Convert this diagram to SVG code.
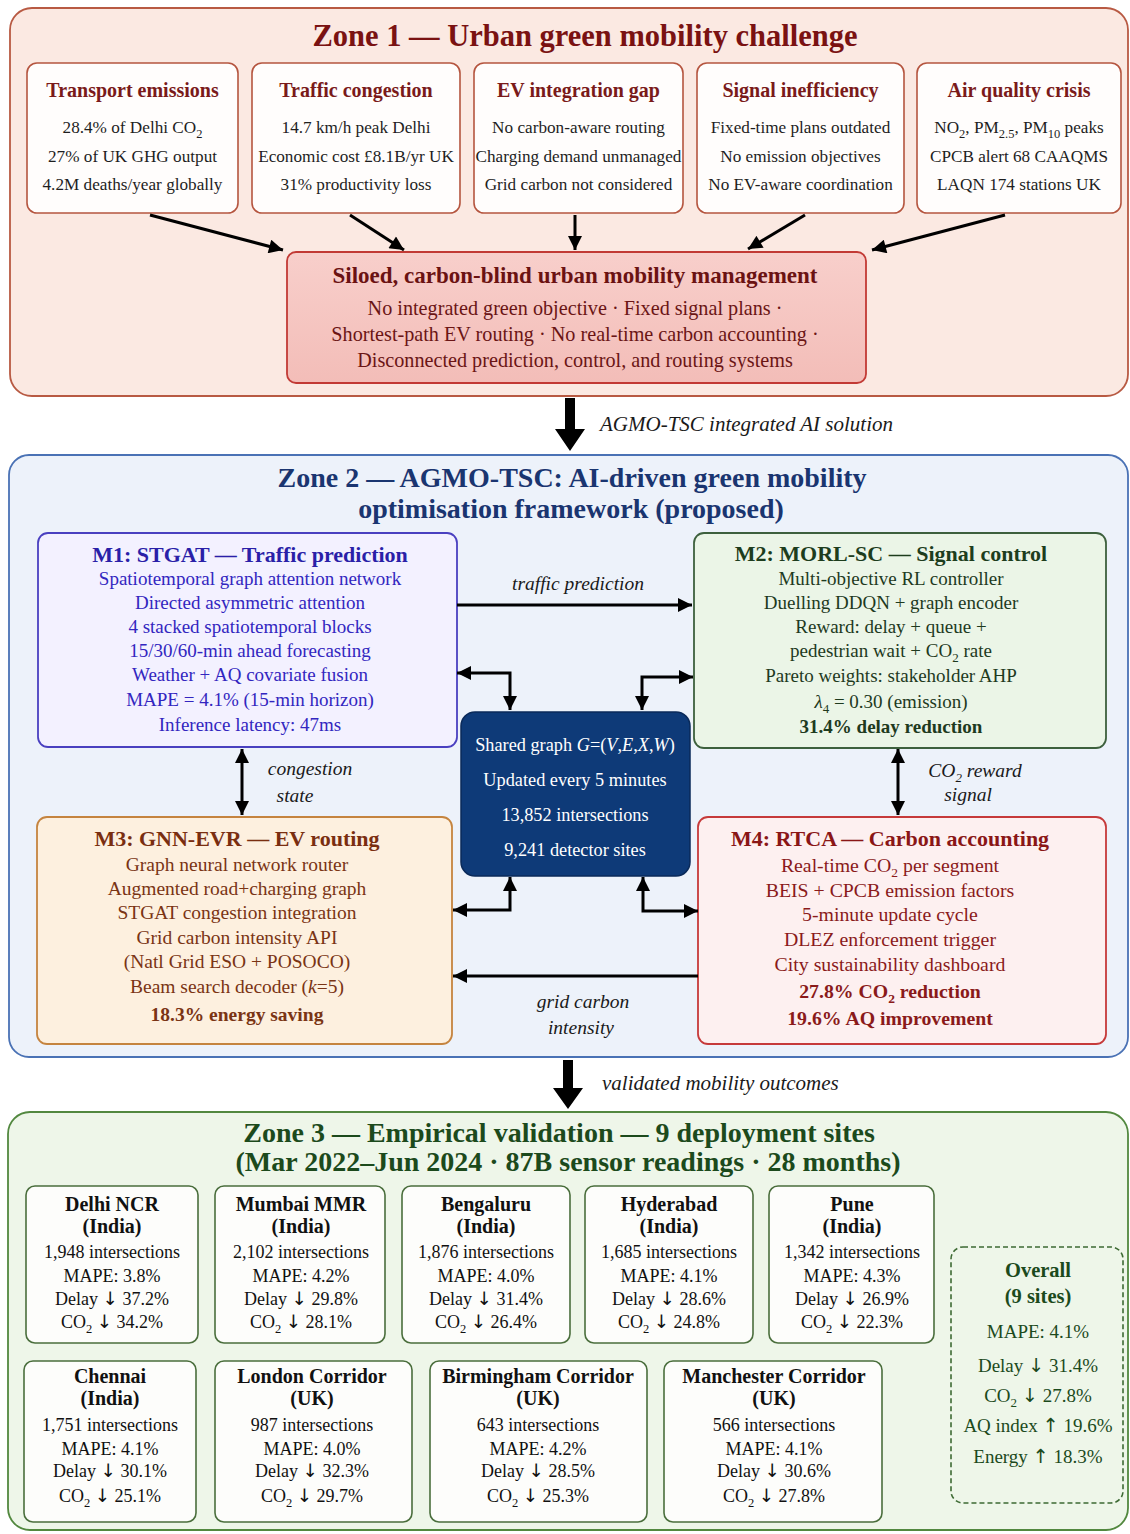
<svg xmlns="http://www.w3.org/2000/svg" width="1130" height="1534" viewBox="0 0 1130 1534">
<defs>
<style>
text{font-family:"Liberation Serif","Times New Roman",serif;text-anchor:middle}
.zt1{font-size:30.5px;font-weight:bold;fill:#7a1212}
.zt2{font-size:28px;font-weight:bold;fill:#1a3570}
.zt3{font-size:28px;font-weight:bold;fill:#1c4a1c}
.bt1{font-size:20px;font-weight:bold;fill:#7a1a1a}
.bb1{font-size:17.2px;fill:#1e1e1e}
.st{font-size:23px;font-weight:bold;fill:#6b1212}
.sb{font-size:20.2px;fill:#6b1515}
.m1t{font-size:22px;font-weight:bold;fill:#2a1fa8}
.m1{font-size:19px;fill:#3226c0}
.m2t{font-size:22px;font-weight:bold;fill:#1d3d1d}
.m2{font-size:19px;fill:#1e3a1e}
.m3t{font-size:22px;font-weight:bold;fill:#7a2e10}
.m3{font-size:19.5px;fill:#7a3414}
.m4t{font-size:22px;font-weight:bold;fill:#8a1616}
.m4{font-size:19.8px;fill:#8a1a1a}
.sh{font-size:18.3px;fill:#ffffff}
.lbl{font-size:19.5px;font-style:italic;fill:#1a1a1a}
.lbs{font-size:21px;font-style:italic;fill:#1a1a1a;text-anchor:start}
.ct{font-size:20px;font-weight:bold;fill:#111}
.cb{font-size:18px;fill:#111}
.ot{font-size:20.5px;font-weight:bold;fill:#1c4a1c}
.ob{font-size:19px;fill:#1c4a1c}
.b{font-weight:bold}
.i{font-style:italic}
.ar{font-family:"DejaVu Sans",sans-serif;font-size:1.02em}
.z1box{fill:#fffdfc;stroke:#b5553f;stroke-width:1.6}
.site{fill:#fdfdfb;stroke:#4a6e3c;stroke-width:1.6}
.con{fill:none;stroke:#000;stroke-width:3}
</style>
<marker id="ah" viewBox="0 0 10 10" refX="10" refY="5" markerWidth="16" markerHeight="14" markerUnits="userSpaceOnUse" orient="auto-start-reverse">
<path d="M0,0 L10,5 L0,10 z" fill="#000"/>
</marker>
<linearGradient id="silo" x1="0" y1="0" x2="0" y2="1">
<stop offset="0" stop-color="#f8cfcb"/>
<stop offset="1" stop-color="#f3bdb8"/>
</linearGradient>
</defs>

<!-- Zone 1 -->
<g id="zone1">
<rect x="10" y="8" width="1118" height="388" rx="22" fill="#fbe9e2" stroke="#b85a43" stroke-width="1.8"/>
<text class="zt1" x="585" y="46">Zone 1 — Urban green mobility challenge</text>
</g>
<g id="transport-emissions">
<rect class="z1box" x="27" y="63" width="211" height="150" rx="10"/>
<text class="bt1" x="132.5" y="97">Transport emissions</text>
<text class="bb1" x="132.5" y="133">28.4% of Delhi CO<tspan font-size="12.5" dy="5">2</tspan></text>
<text class="bb1" x="132.5" y="162">27% of UK GHG output</text>
<text class="bb1" x="132.5" y="190">4.2M deaths/year globally</text>
</g>
<g id="traffic-congestion">
<rect class="z1box" x="252" y="63" width="208" height="150" rx="10"/>
<text class="bt1" x="356" y="97">Traffic congestion</text>
<text class="bb1" x="356" y="133">14.7 km/h peak Delhi</text>
<text class="bb1" x="356" y="162">Economic cost £8.1B/yr UK</text>
<text class="bb1" x="356" y="190">31% productivity loss</text>
</g>
<g id="ev-integration-gap">
<rect class="z1box" x="474" y="63" width="209" height="150" rx="10"/>
<text class="bt1" x="578.5" y="97">EV integration gap</text>
<text class="bb1" x="578.5" y="133">No carbon-aware routing</text>
<text class="bb1" x="578.5" y="162" font-size="16.4">Charging demand unmanaged</text>
<text class="bb1" x="578.5" y="190">Grid carbon not considered</text>
</g>
<g id="signal-inefficiency">
<rect class="z1box" x="697" y="63" width="207" height="150" rx="10"/>
<text class="bt1" x="800.5" y="97">Signal inefficiency</text>
<text class="bb1" x="800.5" y="133">Fixed-time plans outdated</text>
<text class="bb1" x="800.5" y="162">No emission objectives</text>
<text class="bb1" x="800.5" y="190">No EV-aware coordination</text>
</g>
<g id="air-quality-crisis">
<rect class="z1box" x="917" y="63" width="204" height="150" rx="10"/>
<text class="bt1" x="1019" y="97">Air quality crisis</text>
<text class="bb1" x="1019" y="133">NO<tspan font-size="12.5" dy="5">2</tspan><tspan dy="-5">, PM</tspan><tspan font-size="12.5" dy="5">2.5</tspan><tspan dy="-5">, PM</tspan><tspan font-size="12.5" dy="5">10</tspan><tspan dy="-5"> peaks</tspan></text>
<text class="bb1" x="1019" y="162">CPCB alert 68 CAAQMS</text>
<text class="bb1" x="1019" y="190">LAQN 174 stations UK</text>
</g>
<g id="siloed">
<rect x="287" y="252" width="579" height="131" rx="9" fill="url(#silo)" stroke="#c23a35" stroke-width="1.8"/>
<text class="st" x="575" y="283">Siloed, carbon-blind urban mobility management</text>
<text class="sb" x="575" y="315">No integrated green objective · Fixed signal plans ·</text>
<text class="sb" x="575" y="341">Shortest-path EV routing · No real-time carbon accounting ·</text>
<text class="sb" x="575" y="367">Disconnected prediction, control, and routing systems</text>
</g>

<!-- Zone 2 -->
<g id="zone2">
<rect x="9" y="455" width="1119" height="602" rx="20" fill="#edf2fa" stroke="#4a72b5" stroke-width="1.8"/>
<text class="zt2" x="572" y="487">Zone 2 — AGMO-TSC: AI-driven green mobility</text>
<text class="zt2" x="571" y="518">optimisation framework (proposed)</text>
</g>
<g id="m1">
<rect x="38" y="533" width="419" height="214" rx="10" fill="#f3f1ff" stroke="#4a40c0" stroke-width="1.8"/>
<text class="m1t" x="250" y="562">M1: STGAT — Traffic prediction</text>
<text class="m1" x="250" y="585">Spatiotemporal graph attention network</text>
<text class="m1" x="250" y="609">Directed asymmetric attention</text>
<text class="m1" x="250" y="633">4 stacked spatiotemporal blocks</text>
<text class="m1" x="250" y="657">15/30/60-min ahead forecasting</text>
<text class="m1" x="250" y="681">Weather + AQ covariate fusion</text>
<text class="m1" x="250" y="706">MAPE = 4.1% (15-min horizon)</text>
<text class="m1" x="250" y="731">Inference latency: 47ms</text>
</g>
<g id="m2">
<rect x="694" y="533" width="412" height="215" rx="10" fill="#ebf5e7" stroke="#3d603d" stroke-width="1.8"/>
<text class="m2t" x="891" y="561">M2: MORL-SC — Signal control</text>
<text class="m2" x="891" y="585">Multi-objective RL controller</text>
<text class="m2" x="891" y="609">Duelling DDQN + graph encoder</text>
<text class="m2" x="891" y="633">Reward: delay + queue +</text>
<text class="m2" x="891" y="657">pedestrian wait + CO<tspan font-size="13" dy="5">2</tspan><tspan dy="-5"> rate</tspan></text>
<text class="m2" x="891" y="682">Pareto weights: stakeholder AHP</text>
<text class="m2" x="891" y="708"><tspan class="i">λ</tspan><tspan font-size="13" dy="5">4</tspan><tspan dy="-5"> = 0.30 (emission)</tspan></text>
<text class="m2 b" x="891" y="733">31.4% delay reduction</text>
</g>
<g id="shared-graph">
<rect x="461" y="712" width="229" height="164" rx="14" fill="#0e3a78" stroke="#0a2a5a" stroke-width="1.5"/>
<text class="sh" x="575" y="751">Shared graph <tspan class="i">G</tspan>=(<tspan class="i">V</tspan>,<tspan class="i">E</tspan>,<tspan class="i">X</tspan>,<tspan class="i">W</tspan>)</text>
<text class="sh" x="575" y="786">Updated every 5 minutes</text>
<text class="sh" x="575" y="821">13,852 intersections</text>
<text class="sh" x="575" y="856">9,241 detector sites</text>
</g>
<g id="m3">
<rect x="37" y="817" width="415" height="227" rx="10" fill="#fdf0df" stroke="#c5843f" stroke-width="1.8"/>
<text class="m3t" x="237" y="846">M3: GNN-EVR — EV routing</text>
<text class="m3" x="237" y="871">Graph neural network router</text>
<text class="m3" x="237" y="895">Augmented road+charging graph</text>
<text class="m3" x="237" y="919">STGAT congestion integration</text>
<text class="m3" x="237" y="944">Grid carbon intensity API</text>
<text class="m3" x="237" y="968">(Natl Grid ESO + POSOCO)</text>
<text class="m3" x="237" y="993">Beam search decoder (<tspan class="i">k</tspan>=5)</text>
<text class="m3 b" x="237" y="1021">18.3% energy saving</text>
</g>
<g id="m4">
<rect x="698" y="817" width="408" height="227" rx="10" fill="#fdf0f0" stroke="#c63a3a" stroke-width="1.8"/>
<text class="m4t" x="890" y="846">M4: RTCA — Carbon accounting</text>
<text class="m4" x="890" y="872">Real-time CO<tspan font-size="13.5" dy="5">2</tspan><tspan dy="-5"> per segment</tspan></text>
<text class="m4" x="890" y="897">BEIS + CPCB emission factors</text>
<text class="m4" x="890" y="921">5-minute update cycle</text>
<text class="m4" x="890" y="946">DLEZ enforcement trigger</text>
<text class="m4" x="890" y="971">City sustainability dashboard</text>
<text class="m4 b" x="890" y="998">27.8% CO<tspan font-size="13.5" dy="5">2</tspan><tspan dy="-5"> reduction</tspan></text>
<text class="m4 b" x="890" y="1025">19.6% AQ improvement</text>
</g>

<!-- Zone 3 -->
<g id="zone3">
<rect x="8" y="1112" width="1120" height="418" rx="22" fill="#eef6e9" stroke="#52883f" stroke-width="1.8"/>
<text class="zt3" x="559" y="1142">Zone 3 — Empirical validation — 9 deployment sites</text>
<text class="zt3" x="568" y="1171">(Mar 2022–Jun 2024 · 87B sensor readings · 28 months)</text>
</g>
<g id="delhi">
<rect class="site" x="26" y="1186" width="172" height="157" rx="9"/>
<text class="ct" x="112" y="1211">Delhi NCR</text>
<text class="ct" x="112" y="1233">(India)</text>
<text class="cb" x="112" y="1258">1,948 intersections</text>
<text class="cb" x="112" y="1282">MAPE: 3.8%</text>
<text class="cb" x="112" y="1305">Delay <tspan class="ar">↓</tspan> 37.2%</text>
<text class="cb" x="112" y="1328">CO<tspan font-size="12.5" dy="5">2</tspan><tspan dy="-5"> </tspan><tspan class="ar">↓</tspan> 34.2%</text>
</g>
<g id="mumbai">
<rect class="site" x="215" y="1186" width="170" height="157" rx="9"/>
<text class="ct" x="301" y="1211">Mumbai MMR</text>
<text class="ct" x="301" y="1233">(India)</text>
<text class="cb" x="301" y="1258">2,102 intersections</text>
<text class="cb" x="301" y="1282">MAPE: 4.2%</text>
<text class="cb" x="301" y="1305">Delay <tspan class="ar">↓</tspan> 29.8%</text>
<text class="cb" x="301" y="1328">CO<tspan font-size="12.5" dy="5">2</tspan><tspan dy="-5"> </tspan><tspan class="ar">↓</tspan> 28.1%</text>
</g>
<g id="bengaluru">
<rect class="site" x="402" y="1186" width="168" height="157" rx="9"/>
<text class="ct" x="486" y="1211">Bengaluru</text>
<text class="ct" x="486" y="1233">(India)</text>
<text class="cb" x="486" y="1258">1,876 intersections</text>
<text class="cb" x="486" y="1282">MAPE: 4.0%</text>
<text class="cb" x="486" y="1305">Delay <tspan class="ar">↓</tspan> 31.4%</text>
<text class="cb" x="486" y="1328">CO<tspan font-size="12.5" dy="5">2</tspan><tspan dy="-5"> </tspan><tspan class="ar">↓</tspan> 26.4%</text>
</g>
<g id="hyderabad">
<rect class="site" x="585" y="1186" width="168" height="157" rx="9"/>
<text class="ct" x="669" y="1211">Hyderabad</text>
<text class="ct" x="669" y="1233">(India)</text>
<text class="cb" x="669" y="1258">1,685 intersections</text>
<text class="cb" x="669" y="1282">MAPE: 4.1%</text>
<text class="cb" x="669" y="1305">Delay <tspan class="ar">↓</tspan> 28.6%</text>
<text class="cb" x="669" y="1328">CO<tspan font-size="12.5" dy="5">2</tspan><tspan dy="-5"> </tspan><tspan class="ar">↓</tspan> 24.8%</text>
</g>
<g id="pune">
<rect class="site" x="769" y="1186" width="165" height="157" rx="9"/>
<text class="ct" x="852" y="1211">Pune</text>
<text class="ct" x="852" y="1233">(India)</text>
<text class="cb" x="852" y="1258">1,342 intersections</text>
<text class="cb" x="852" y="1282">MAPE: 4.3%</text>
<text class="cb" x="852" y="1305">Delay <tspan class="ar">↓</tspan> 26.9%</text>
<text class="cb" x="852" y="1328">CO<tspan font-size="12.5" dy="5">2</tspan><tspan dy="-5"> </tspan><tspan class="ar">↓</tspan> 22.3%</text>
</g>
<g id="chennai">
<rect class="site" x="24" y="1361" width="172" height="161" rx="9"/>
<text class="ct" x="110" y="1383">Chennai</text>
<text class="ct" x="110" y="1405">(India)</text>
<text class="cb" x="110" y="1431">1,751 intersections</text>
<text class="cb" x="110" y="1455">MAPE: 4.1%</text>
<text class="cb" x="110" y="1477">Delay <tspan class="ar">↓</tspan> 30.1%</text>
<text class="cb" x="110" y="1502">CO<tspan font-size="12.5" dy="5">2</tspan><tspan dy="-5"> </tspan><tspan class="ar">↓</tspan> 25.1%</text>
</g>
<g id="london">
<rect class="site" x="215" y="1361" width="197" height="161" rx="9"/>
<text class="ct" x="312" y="1383">London Corridor</text>
<text class="ct" x="312" y="1405">(UK)</text>
<text class="cb" x="312" y="1431">987 intersections</text>
<text class="cb" x="312" y="1455">MAPE: 4.0%</text>
<text class="cb" x="312" y="1477">Delay <tspan class="ar">↓</tspan> 32.3%</text>
<text class="cb" x="312" y="1502">CO<tspan font-size="12.5" dy="5">2</tspan><tspan dy="-5"> </tspan><tspan class="ar">↓</tspan> 29.7%</text>
</g>
<g id="birmingham">
<rect class="site" x="430" y="1361" width="217" height="161" rx="9"/>
<text class="ct" x="538" y="1383">Birmingham Corridor</text>
<text class="ct" x="538" y="1405">(UK)</text>
<text class="cb" x="538" y="1431">643 intersections</text>
<text class="cb" x="538" y="1455">MAPE: 4.2%</text>
<text class="cb" x="538" y="1477">Delay <tspan class="ar">↓</tspan> 28.5%</text>
<text class="cb" x="538" y="1502">CO<tspan font-size="12.5" dy="5">2</tspan><tspan dy="-5"> </tspan><tspan class="ar">↓</tspan> 25.3%</text>
</g>
<g id="manchester">
<rect class="site" x="664" y="1361" width="218" height="161" rx="9"/>
<text class="ct" x="774" y="1383">Manchester Corridor</text>
<text class="ct" x="774" y="1405">(UK)</text>
<text class="cb" x="774" y="1431">566 intersections</text>
<text class="cb" x="774" y="1455">MAPE: 4.1%</text>
<text class="cb" x="774" y="1477">Delay <tspan class="ar">↓</tspan> 30.6%</text>
<text class="cb" x="774" y="1502">CO<tspan font-size="12.5" dy="5">2</tspan><tspan dy="-5"> </tspan><tspan class="ar">↓</tspan> 27.8%</text>
</g>
<g id="overall">
<rect x="951" y="1247" width="172" height="256" rx="12" fill="#eef6e9" stroke="#3d6a33" stroke-width="1.6" stroke-dasharray="5,3"/>
<text class="ot" x="1038" y="1277">Overall</text>
<text class="ot" x="1038" y="1303">(9 sites)</text>
<text class="ob" x="1038" y="1338">MAPE: 4.1%</text>
<text class="ob" x="1038" y="1372">Delay <tspan class="ar">↓</tspan> 31.4%</text>
<text class="ob" x="1038" y="1402">CO<tspan font-size="13" dy="5">2</tspan><tspan dy="-5"> </tspan><tspan class="ar">↓</tspan> 27.8%</text>
<text class="ob" x="1038" y="1432">AQ index <tspan class="ar">↑</tspan> 19.6%</text>
<text class="ob" x="1038" y="1463">Energy <tspan class="ar">↑</tspan> 18.3%</text>
</g>

<!-- Connectors -->
<g id="connectors">
<path class="con" d="M150,215 L283,250" marker-end="url(#ah)"/>
<path class="con" d="M350,215 L404,250" marker-end="url(#ah)"/>
<path class="con" d="M575,215 L575,250" marker-end="url(#ah)"/>
<path class="con" d="M805,215 L748,249" marker-end="url(#ah)"/>
<path class="con" d="M1005,215 L872,250" marker-end="url(#ah)"/>

<path d="M565,398 H575 V429 H585 L570,451 L555,429 H565 Z" fill="#000"/>
<text class="lbs" x="600" y="431">AGMO-TSC integrated AI solution</text>

<path class="con" d="M457,605 H692" marker-end="url(#ah)"/>
<text class="lbl" x="578" y="590">traffic prediction</text>
<path class="con" d="M457,673 H510 V710" marker-start="url(#ah)" marker-end="url(#ah)"/>
<path class="con" d="M642,710 V677 H693" marker-start="url(#ah)" marker-end="url(#ah)"/>
<path class="con" d="M453,910 H510 V877" marker-start="url(#ah)" marker-end="url(#ah)"/>
<path class="con" d="M643,877 V911 H698" marker-start="url(#ah)" marker-end="url(#ah)"/>
<path class="con" d="M242,749 V815" marker-start="url(#ah)" marker-end="url(#ah)"/>
<text class="lbl" x="310" y="775">congestion</text>
<text class="lbl" x="295" y="802">state</text>
<path class="con" d="M898,749 V815" marker-start="url(#ah)" marker-end="url(#ah)"/>
<text class="lbl" x="975" y="777">CO<tspan font-size="13" dy="5">2</tspan><tspan dy="-5"> reward</tspan></text>
<text class="lbl" x="968" y="801">signal</text>
<path class="con" d="M698,976 H453" marker-end="url(#ah)"/>
<text class="lbl" x="583" y="1008">grid carbon</text>
<text class="lbl" x="581" y="1034">intensity</text>

<path d="M563,1060 H573 V1088 H583 L568,1109 L553,1088 H563 Z" fill="#000"/>
<text class="lbs" x="602" y="1090">validated mobility outcomes</text>
</g>
</svg>
